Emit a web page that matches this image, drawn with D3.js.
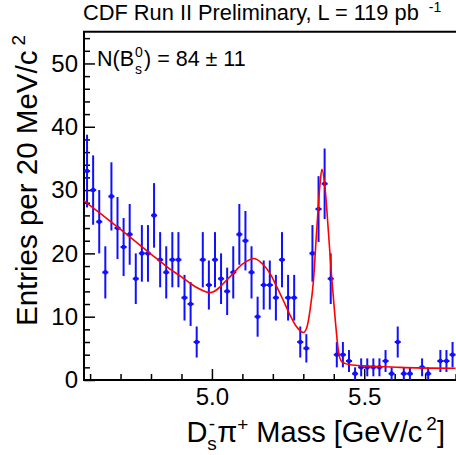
<!DOCTYPE html>
<html>
<head>
<meta charset="utf-8">
<script src="https://cdn.jsdelivr.net/npm/d3@7"></script>
<style>
  html, body { margin: 0; padding: 0; background: #fff; }
  text { font-family: "Liberation Sans", Arial, sans-serif; fill: #000; }
</style>
</head>
<body>
<script>
// histogram: 20 MeV bins starting at 4.58 GeV
const binStart = 4.58
const binWidth = 0.02
const counts = [
  33, 30, 25, 17, 29, 24, 21, 23, 16, 20,
  20, 26, 19, 17, 19, 19, 13, 12, 6, 19,
  15, 19, 16, 14, 17, 23, 22, 17, 10, 15,
  15, 13, 19, 13, 13, 6, 5, 20, 27, 31,
  16, 4, 4, 3, 1, 2, 2, 2, 2, 3,
  1, 6, 1, 1, 0, 2, 1, 0, 3, 3, 4
]

// fit curve
const fitMass = [4.580, 4.650, 4.720, 4.800, 4.860, 4.900, 4.950, 4.994, 5.059, 5.100,
  5.138, 5.169, 5.191, 5.213, 5.234, 5.256, 5.278, 5.300, 5.311, 5.322,
  5.333, 5.344, 5.355, 5.361, 5.371, 5.382, 5.393, 5.404, 5.415, 5.426,
  5.453, 5.617, 5.800]
const fitValue = [28.3, 25.7, 23.0, 19.9, 17.6, 16.3, 14.6, 13.8, 16.3, 18.3,
  19.2, 18.2, 16.8, 14.7, 12.6, 10.3, 8.4, 7.5, 8.2, 11.0,
  15.5, 23.7, 31.0, 33.3, 30.5, 23.7, 16.3, 10.0, 4.7, 2.9,
  2.4, 2.0, 1.85]

const yMajor = [0, 10, 20, 30, 40, 50]
const yMinor = d3.range(0, 55, 2).filter(v => v % 10 !== 0)
const xMajor = [5.0, 5.5]
const xMajorLabels = ['5.0', '5.5']
const xMinor = [4.6, 4.7, 4.8, 4.9, 5.1, 5.2, 5.3, 5.4, 5.6, 5.7, 5.8]

const width = 456
const height = 455
const padL = 84, padT = 31.8, padR = 455.6, padB = 380

const x = d3.scaleLinear().domain([4.58, 5.80]).range([padL, padR])
const y = d3.scaleLinear().domain([0, 55]).range([padB, padT])

const svg = d3.select('body')
  .append('svg')
  .attr('width', width)
  .attr('height', height)

// ticks (inside the frame)
svg.append('g')
  .attr('transform', `translate(${padL},0)`)
  .call(d3.axisLeft(y).tickValues(yMinor).tickSize(-6).tickFormat(''))
  .call(g => g.select('.domain').remove())
svg.append('g')
  .attr('transform', `translate(${padL},0)`)
  .call(d3.axisLeft(y).tickValues(yMajor).tickSize(-11).tickPadding(6).tickFormat(d3.format('d')))
  .call(g => g.select('.domain').remove())
  .call(g => g.selectAll('text').style('font-size', '24px'))

svg.append('g')
  .attr('transform', `translate(0,${padB})`)
  .call(d3.axisBottom(x).tickValues(xMinor).tickSize(-6).tickFormat(''))
  .call(g => g.select('.domain').remove())
svg.append('g')
  .attr('transform', `translate(0,${padB})`)
  .call(d3.axisBottom(x).tickValues(xMajor).tickSize(-11).tickPadding(8)
    .tickFormat((d, i) => xMajorLabels[i]))
  .call(g => g.select('.domain').remove())
  .call(g => g.selectAll('text').style('font-size', '24px'))

svg.selectAll('.tick line').attr('stroke', '#000').attr('stroke-width', 1.5)
svg.selectAll('.tick text').attr('fill', '#000').attr('font-family', '"Liberation Sans", Arial, sans-serif')

// frame
const frame = svg.append('g').attr('stroke', '#000').attr('stroke-width', 2)
frame.append('line').attr('x1', padL).attr('x2', padL).attr('y1', padT).attr('y2', padB)
frame.append('line').attr('x1', padL - 1).attr('x2', width).attr('y1', padT).attr('y2', padT)
frame.append('line').attr('x1', padL - 1).attr('x2', width).attr('y1', padB).attr('y2', padB)

// data points with sqrt(N) errors
const bins = counts.map((c, i) => ({
  lo: binStart + i * binWidth,
  hi: binStart + (i + 1) * binWidth,
  mid: binStart + (i + 0.5) * binWidth,
  n: c
})).filter(d => d.n > 0)

const blue = '#1010ff'
const pts = svg.append('g').attr('stroke', blue).attr('fill', blue)
pts.selectAll('line.ey').data(bins).join('line')
  .attr('class', 'ey')
  .attr('x1', d => x(d.mid)).attr('x2', d => x(d.mid))
  .attr('y1', d => y(d.n - Math.sqrt(d.n))).attr('y2', d => y(d.n + Math.sqrt(d.n)))
  .attr('stroke-width', 2)
pts.selectAll('line.ex').data(bins).join('line')
  .attr('class', 'ex')
  .attr('x1', d => x(d.lo)).attr('x2', d => x(d.hi))
  .attr('y1', d => y(d.n)).attr('y2', d => y(d.n))
  .attr('stroke-width', 2)
pts.selectAll('circle').data(bins).join('circle')
  .attr('cx', d => x(d.mid)).attr('cy', d => y(d.n)).attr('r', 2.3)
  .attr('stroke', 'none')

// fit curve
const fit = fitMass.map((m, i) => [m, fitValue[i]])
svg.append('path')
  .datum(fit)
  .attr('fill', 'none')
  .attr('stroke', '#ff0000')
  .attr('stroke-width', 1.6)
  .attr('d', d3.line().x(d => x(d[0])).y(d => y(d[1])).curve(d3.curveMonotoneX))

// header
const head = svg.append('text').attr('x', 83).attr('y', 20).style('font-size', '21.8px')
head.append('tspan').text('CDF Run II Preliminary, L = 119 pb')
head.append('tspan').attr('dx', 10).attr('dy', -8).style('font-size', '14px').text('-1')

// yield label
const lab = svg.append('text').attr('x', 97).attr('y', 66).style('font-size', '21.5px')
lab.append('tspan').text('N(B')
lab.append('tspan').attr('dx', 1).attr('dy', -9).style('font-size', '14px').text('0')
lab.append('tspan').attr('dx', -7.8).attr('dy', 17).style('font-size', '14px').text('s')
lab.append('tspan').attr('dx', 2).attr('dy', -8).text(') = 84 \u00b1 11')

// x title
const xt = svg.append('text').attr('x', 445).attr('y', 442)
  .attr('text-anchor', 'end').style('font-size', '29px')
xt.append('tspan').text('D')
xt.append('tspan').attr('dy', 8).style('font-size', '19px').text('s')
xt.append('tspan').attr('dx', -8).attr('dy', -20).style('font-size', '19px').text('-')
xt.append('tspan').attr('dx', 2).attr('dy', 12).text('\u03c0')
xt.append('tspan').attr('dy', -11).style('font-size', '19px').text('+')
xt.append('tspan').attr('dy', 11).text(' Mass [GeV/c')
xt.append('tspan').attr('dx', 4).attr('dy', -12).style('font-size', '19px').text('2')
xt.append('tspan').attr('dy', 12).text(']')

// y title
const yt = svg.append('text')
  .attr('transform', 'translate(37,35) rotate(-90)')
  .attr('text-anchor', 'end').style('font-size', '29.5px')
yt.append('tspan').text('Entries per 20 MeV/c')
yt.append('tspan').attr('dx', 5).attr('dy', -12).style('font-size', '19px').text('2')
</script>
</body>
</html>
